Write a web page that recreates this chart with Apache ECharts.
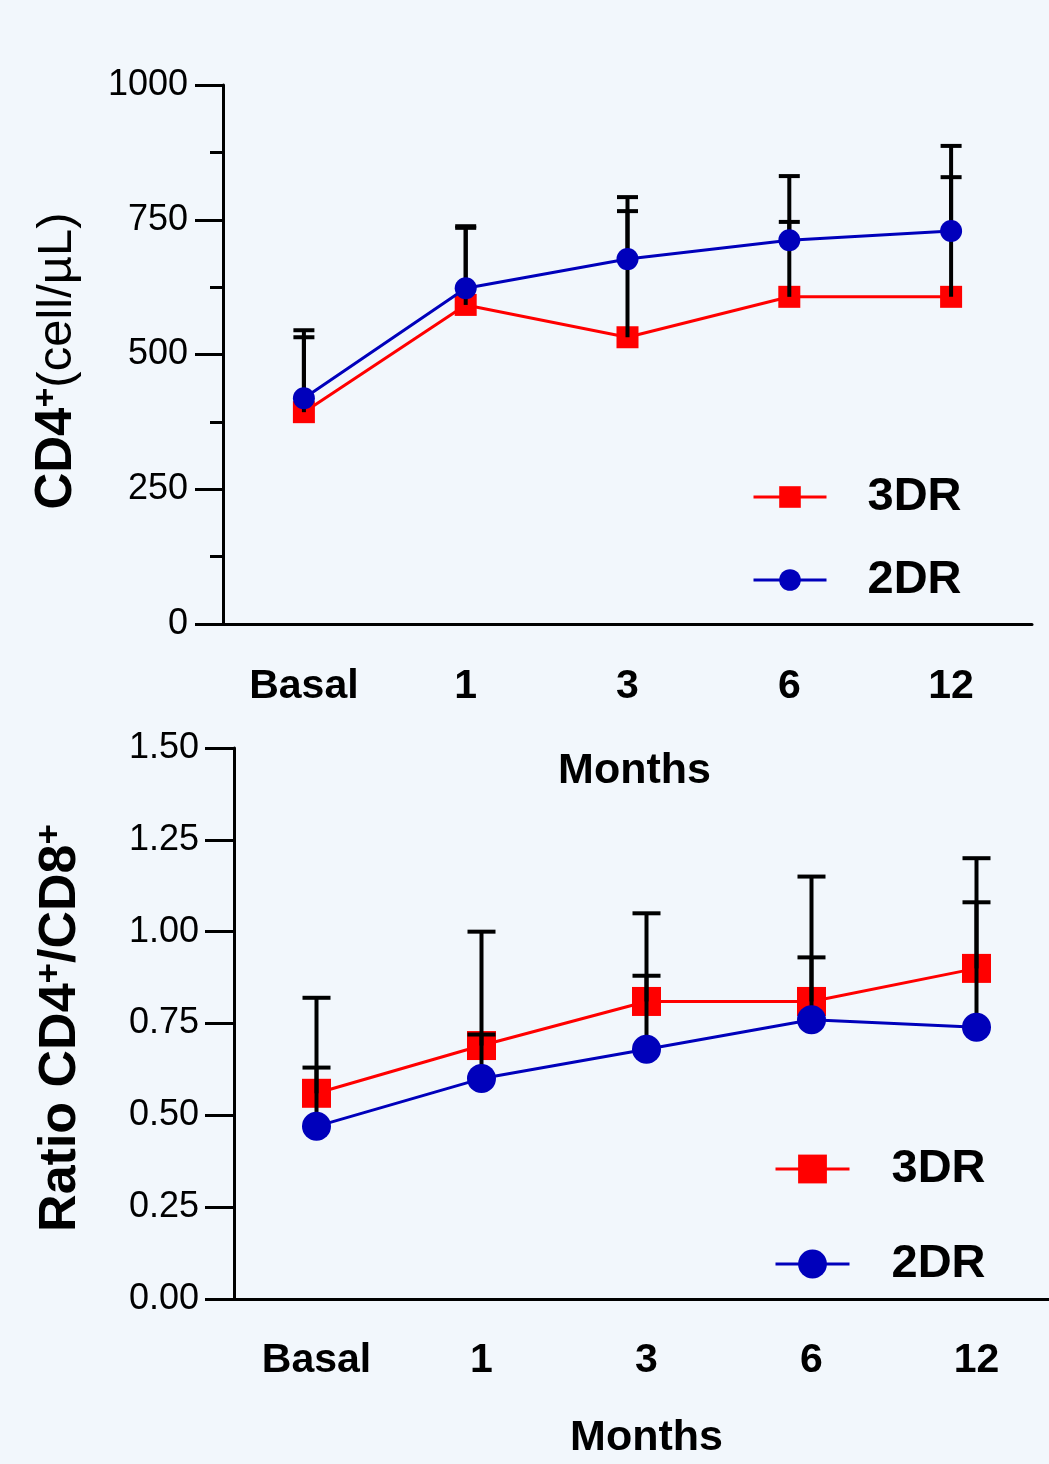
<!DOCTYPE html>
<html>
<head>
<meta charset="utf-8">
<script src="https://cdn.jsdelivr.net/npm/echarts@6/dist/echarts.min.js"></script>
<style>
  body { margin: 0; background: #f2f7fc; }
  #main { width: 1049px; height: 1464px; }
</style>
</head>
<body>
<div id="main"></div>
<script>
  // categories
  const months = ['Basal', '1', '3', '6', '12'];

  // CD4+ count (cell/uL)
  const cd4_3DR = [393, 592, 532, 607, 607];
  const cd4_3DR_up = [532, 735, 792, 831, 887];
  const cd4_2DR = [419, 623, 677, 712, 729];
  const cd4_2DR_up = [545, 738, 766, 746, 829];

  // CD4+/CD8+ ratio
  const ratio_3DR = [0.56, 0.69, 0.81, 0.81, 0.90];
  const ratio_3DR_up = [0.82, 0.72, 1.05, 1.15, 1.20];
  const ratio_2DR = [0.47, 0.60, 0.68, 0.76, 0.74];
  const ratio_2DR_up = [0.63, 1.00, 0.88, 0.93, 1.08];

  const font = "'Liberation Sans', Arial, sans-serif";
  const RED = '#ff0000';
  const BLUE = '#0000bb';

  function withErr(mean, up) {
    return mean.map((v, i) => [i, v, up[i]]);
  }

  // upper error bar: stem from the mean to mean+SD, plus a cap
  function errBar(capW) {
    return function (params, api) {
      const p0 = api.coord([api.value(0), api.value(1)]);
      const p1 = api.coord([api.value(0), api.value(2)]);
      return {
        type: 'group',
        children: [
          { type: 'line', shape: { x1: p0[0], y1: p0[1], x2: p1[0], y2: p1[1] }, style: { stroke: '#000', lineWidth: 4 } },
          { type: 'line', shape: { x1: p1[0] - capW / 2, y1: p1[1], x2: p1[0] + capW / 2, y2: p1[1] }, style: { stroke: '#000', lineWidth: 4 } }
        ]
      };
    };
  }

  const axisLineStyle = { lineStyle: { color: '#000', width: 3 } };

  function xAx(grid, margin, gap, namePad) {
    return {
      type: 'category', gridIndex: grid, data: months,
      axisLine: axisLineStyle,
      axisTick: { alignWithLabel: true, length: 26, lineStyle: { color: '#000', width: 3 } },
      axisLabel: { color: '#000', fontSize: 41, fontWeight: 'bold', fontFamily: font, margin: margin },
      name: 'Months', nameLocation: 'middle', nameGap: gap,
      nameTextStyle: { color: '#000', fontSize: 43, fontWeight: 'bold', fontFamily: font, padding: namePad },
      splitLine: { show: false }
    };
  }

  const chart = echarts.init(document.getElementById('main'));
  chart.setOption({
    backgroundColor: '#f2f7fc',
    animation: false,
    grid: [
      { left: 223, top: 85, width: 809, height: 539, containLabel: false, outerBoundsMode: 'none' },
      { left: 234, top: 748, width: 825, height: 551, containLabel: false, outerBoundsMode: 'none' }
    ],
    xAxis: [xAx(0, 42, 126, [0, 0, 0, 14]), xAx(1, 41, 118, 0)],
    yAxis: [
      {
        type: 'value', gridIndex: 0, min: 0, max: 1000, interval: 250,
        axisLine: { show: true, lineStyle: { color: '#000', width: 3 } },
        axisTick: { show: true, length: 28, lineStyle: { color: '#000', width: 3 } },
        minorTick: { show: true, splitNumber: 2, length: 13, lineStyle: { color: '#000', width: 3 } },
        axisLabel: { color: '#000', fontSize: 36, fontFamily: font, margin: 35, padding: [5, 0, 0, 0],
          formatter: v => String(v) },
        splitLine: { show: false }
      },
      {
        type: 'value', gridIndex: 1, min: 0, max: 1.5, interval: 0.25,
        axisLine: { show: true, lineStyle: { color: '#000', width: 3 } },
        axisTick: { show: true, length: 29, lineStyle: { color: '#000', width: 3 } },
        axisLabel: { color: '#000', fontSize: 36, fontFamily: font, margin: 35, padding: [4, 0, 0, 0],
          formatter: v => v.toFixed(2) },
        splitLine: { show: false }
      }
    ],
    legend: [
      {
        orient: 'vertical', left: 752, top: 472, padding: 0, itemGap: 33,
        itemWidth: 73, itemHeight: 27, lineStyle: { width: 3 },
        textStyle: { color: '#000', fontSize: 47, fontWeight: 'bold', fontFamily: font, lineHeight: 50, padding: [0, 0, 0, 36] },
        data: ['3DR', '2DR']
      },
      {
        orient: 'vertical', left: 774, top: 1144, padding: 0, itemGap: 45,
        itemWidth: 74, itemHeight: 36, lineStyle: { width: 3 },
        textStyle: { color: '#000', fontSize: 47, fontWeight: 'bold', fontFamily: font, lineHeight: 50, padding: [0, 0, 0, 37] },
        data: ['3DR', '2DR']
      }
    ],
    graphic: [
      {
        type: 'text', x: 57, y: 361, rotation: Math.PI / 2,
        style: {
          text: '{b|CD4}{s|+}{n|(cell/µL)}', align: 'center', verticalAlign: 'middle',
          rich: {
            b: { fontSize: 51, fontWeight: 'bold', fontFamily: font, fill: '#000', lineHeight: 54 },
            s: { fontSize: 34, fontWeight: 'bold', fontFamily: font, fill: '#000', verticalAlign: 'top', lineHeight: 30 },
            n: { fontSize: 49, fontFamily: font, fill: '#000', lineHeight: 54 }
          }
        }
      },
      {
        type: 'text', x: 61, y: 1028, rotation: Math.PI / 2,
        style: {
          text: '{b|Ratio CD4}{s|+}{b|/CD8}{s|+}', align: 'center', verticalAlign: 'middle',
          rich: {
            b: { fontSize: 52, fontWeight: 'bold', fontFamily: font, fill: '#000', lineHeight: 56 },
            s: { fontSize: 35, fontWeight: 'bold', fontFamily: font, fill: '#000', verticalAlign: 'top', lineHeight: 30 }
          }
        }
      }
    ],
    series: [
      {
        name: '3DR', type: 'line', xAxisIndex: 0, yAxisIndex: 0, data: cd4_3DR, z: 2,
        symbol: 'rect', symbolSize: 22, lineStyle: { color: RED, width: 3 }, itemStyle: { color: RED }
      },
      {
        type: 'custom', xAxisIndex: 0, yAxisIndex: 0, z: 3,
        renderItem: errBar(21), data: withErr(cd4_3DR, cd4_3DR_up), encode: { x: 0, y: 2 }
      },
      {
        type: 'custom', xAxisIndex: 0, yAxisIndex: 0, z: 3,
        renderItem: errBar(21), data: withErr(cd4_2DR, cd4_2DR_up), encode: { x: 0, y: 2 }
      },
      {
        name: '2DR', type: 'line', xAxisIndex: 0, yAxisIndex: 0, data: cd4_2DR, z: 4,
        symbol: 'circle', symbolSize: 22, lineStyle: { color: BLUE, width: 3 }, itemStyle: { color: BLUE }
      },
      {
        name: '3DR', type: 'line', xAxisIndex: 1, yAxisIndex: 1, data: ratio_3DR, z: 2,
        symbol: 'rect', symbolSize: 29, lineStyle: { color: RED, width: 3 }, itemStyle: { color: RED }
      },
      {
        type: 'custom', xAxisIndex: 1, yAxisIndex: 1, z: 3,
        renderItem: errBar(28), data: withErr(ratio_3DR, ratio_3DR_up), encode: { x: 0, y: 2 }
      },
      {
        type: 'custom', xAxisIndex: 1, yAxisIndex: 1, z: 3,
        renderItem: errBar(28), data: withErr(ratio_2DR, ratio_2DR_up), encode: { x: 0, y: 2 }
      },
      {
        name: '2DR', type: 'line', xAxisIndex: 1, yAxisIndex: 1, data: ratio_2DR, z: 4,
        symbol: 'circle', symbolSize: 29, lineStyle: { color: BLUE, width: 3 }, itemStyle: { color: BLUE }
      }
    ]
  });
</script>
</body>
</html>
